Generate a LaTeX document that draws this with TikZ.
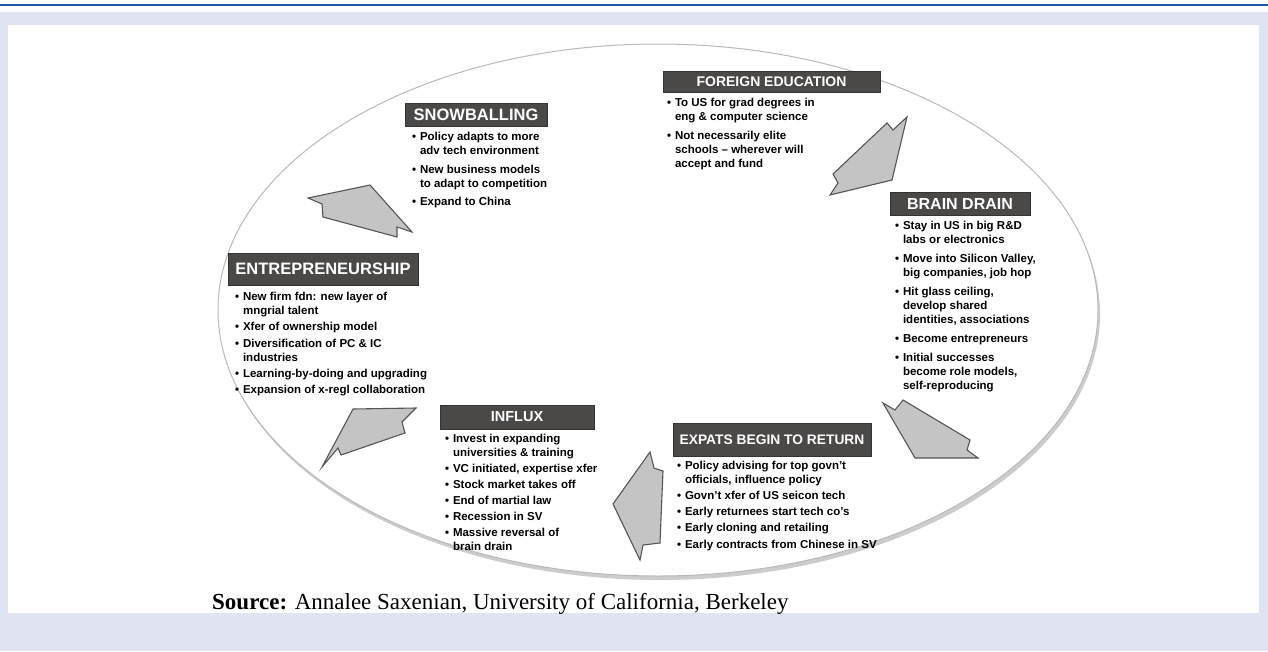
\documentclass[tikz,border=0pt]{standalone}
\usepackage{fontspec}
\setmainfont{Liberation Serif}
\setsansfont{Liberation Sans}
\usetikzlibrary{positioning}
\definecolor{framelav}{HTML}{DFE3F2}
\definecolor{rulebl}{HTML}{1D5AA6}
\definecolor{bardark}{HTML}{4B4948}
\definecolor{arrowfill}{HTML}{C4C4C4}
\definecolor{arrowline}{HTML}{555555}
\pgfdeclareradialshading{ovalshade}{\pgfpoint{0bp}{0bp}}{color(0bp)=(white); color(24bp)=(white); color(42bp)=(gray!8); color(50bp)=(gray!26)}
\newcommand{\pointlist}[1]{\begin{tabular}{@{}l@{\hspace{4pt}}l@{}}#1\end{tabular}}
\newcommand{\dotitem}{\textbullet}
\tikzset{
	headbar/.style={
		rectangle,
		fill=bardark,
		draw=bardark!70!black,
		text=white,
		inner sep=0pt,
		align=center
	},
	bullets/.style={
		inner sep=0pt,
		align=left,
		font=\sffamily\bfseries\fontsize{11.5}{14}\selectfont
	},
	blockarrow/.style={
		fill=arrowfill,
		draw=arrowline,
		line width=1.1pt
	}
}
\begin{document}
\begin{tikzpicture}[x=1pt, y=-1pt]
		\useasboundingbox (0,0) rectangle (1268,651);
		% frame
		\fill[framelav] (0,12) rectangle (1268,651);
		\fill[white] (8,25) rectangle (1259,613);
		\draw[rulebl, line width=2pt] (0,5) -- (1268,5);
		
		% oval
		\fill[gray!40] (660,314) ellipse [x radius=440pt, y radius=266pt];
		\shade[shading=ovalshade, draw=gray!55, line width=1pt] (658,310) ellipse [x radius=440pt, y radius=266pt];
		
		% headings
		\draw node[headbar, minimum width=217pt, minimum height=21pt, font=\sffamily\bfseries\fontsize{14}{14}\selectfont] (Foreign) at (771.5,82) {FOREIGN EDUCATION};
		\draw node[headbar, minimum width=142pt, minimum height=23pt, font=\sffamily\bfseries\fontsize{16.5}{16.5}\selectfont] (Snow) at (476,114.5) {SNOWBALLING};
		\draw node[headbar, minimum width=140pt, minimum height=23pt, font=\sffamily\bfseries\fontsize{16}{16}\selectfont] (Drain) at (960,203.5) {BRAIN DRAIN};
		\draw node[headbar, minimum width=190pt, minimum height=32pt, font=\sffamily\bfseries\fontsize{16.5}{16.5}\selectfont] (Entre) at (323,269) {ENTREPRENEURSHIP};
		\draw node[headbar, minimum width=154pt, minimum height=24pt, font=\sffamily\bfseries\fontsize{14.5}{14.5}\selectfont] (Influx) at (517,417) {INFLUX};
		\draw node[headbar, minimum width=198pt, minimum height=33pt, font=\sffamily\bfseries\fontsize{13.8}{13.8}\selectfont] (Expats) at (772,439.5) {EXPATS BEGIN TO RETURN};
		
		% bullet lists
		\draw node[bullets, below=4pt of Foreign.south west, anchor=north west, xshift=4pt] (ForeignList) {\pointlist{
			\dotitem & To US for grad degrees in\\ & eng \& computer science\\[5pt]
			\dotitem & Not necessarily elite\\ & schools -- wherever will\\ & accept and fund}};
		\draw node[bullets, below=4pt of Snow.south west, anchor=north west, xshift=7pt] (SnowList) {\pointlist{
			\dotitem & Policy adapts to more\\ & adv tech environment\\[5pt]
			\dotitem & New business models\\ & to adapt to competition\\[4pt]
			\dotitem & Expand to China}};
		\draw node[bullets, below=4pt of Drain.south west, anchor=north west, xshift=5pt] (DrainList) {\pointlist{
			\dotitem & Stay in US in big R\&D\\ & labs or electronics\\[5pt]
			\dotitem & Move into Silicon Valley,\\ & big companies, job hop\\[5pt]
			\dotitem & Hit glass ceiling,\\ & develop shared\\ & identities, associations\\[5pt]
			\dotitem & Become entrepreneurs\\[5pt]
			\dotitem & Initial successes\\ & become role models,\\ & self-reproducing}};
		\draw node[bullets, below=5pt of Entre.south west, anchor=north west, xshift=7pt] (EntreList) {\pointlist{
			\dotitem & New firm fdn: new layer of\\ & mngrial talent\\[2.5pt]
			\dotitem & Xfer of ownership model\\[2.5pt]
			\dotitem & Diversification of PC \& IC\\ & industries\\[2.5pt]
			\dotitem & Learning-by-doing and upgrading\\[2pt]
			\dotitem & Expansion of x-regl collaboration}};
		\draw node[bullets, below=3pt of Influx.south west, anchor=north west, xshift=5pt] (InfluxList) {\pointlist{
			\dotitem & Invest in expanding\\ & universities \& training\\[2pt]
			\dotitem & VC initiated, expertise xfer\\[2pt]
			\dotitem & Stock market takes off\\[2pt]
			\dotitem & End of martial law\\[2pt]
			\dotitem & Recession in SV\\[2pt]
			\dotitem & Massive reversal of\\ & brain drain}};
		\draw node[bullets, below=3pt of Expats.south west, anchor=north west, xshift=4pt] (ExpatsList) {\pointlist{
			\dotitem & Policy advising for top govn't\\ & officials, influence policy\\[2pt]
			\dotitem & Govn't xfer of US seicon tech\\[2pt]
			\dotitem & Early returnees start tech co's\\[2pt]
			\dotitem & Early cloning and retailing\\[3pt]
			\dotitem & Early contracts from Chinese in SV}};
		
		% cycle arrows
		\draw[blockarrow] (907,117) -- (893,130) -- (887,123) -- (833,174) -- (838,183) -- (830,195) -- (892,180) -- cycle;
		\draw[blockarrow] (883,403) -- (895,410) -- (903,400) -- (970,440) -- (967,450) -- (978,458) -- (915,458) -- cycle;
		\draw[blockarrow] (650,452) -- (654,468) -- (663,471) -- (660,543) -- (643,545) -- (640,560) -- (613,504) -- cycle;
		\draw[blockarrow] (353,409) -- (416,408) -- (402,422) -- (405,433) -- (341,455) -- (338,448) -- (322,467) -- cycle;
		\draw[blockarrow] (308,198) -- (322,204) -- (323,217) -- (397,237) -- (397,227) -- (412,232) -- (370,185) -- cycle;
		
		% source line
		\draw node[anchor=base west, inner sep=0pt, font=\fontsize{23}{23}\selectfont] (Source) at (212,609) {\textbf{Source:} Annalee Saxenian, University of California, Berkeley};
	\end{tikzpicture}
\end{document}
